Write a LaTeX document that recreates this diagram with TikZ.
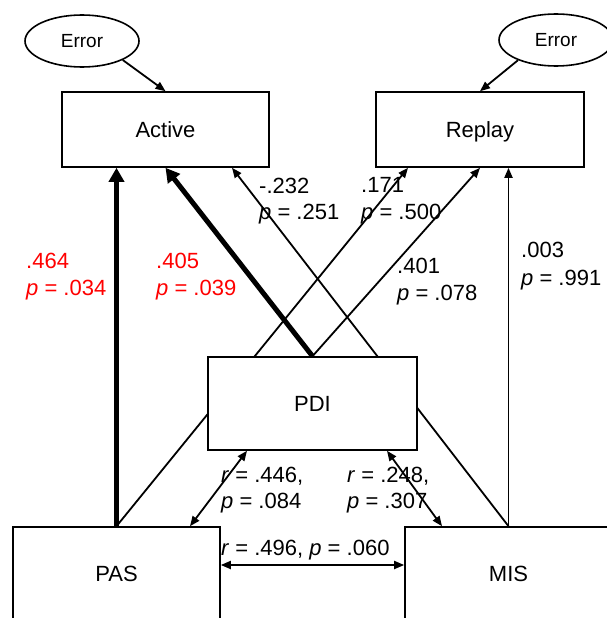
\documentclass[tikz,border=0pt]{standalone}
\usepackage{fontspec}
\setmainfont{Liberation Sans}
\usetikzlibrary{arrows.meta,backgrounds,shapes.geometric}
\begin{document}
\begin{tikzpicture}[x=1pt,y=-1pt,
  box/.style={draw,line width=1.6pt,fill=white,inner sep=0pt,text height=15.8pt,text depth=0pt,font=\fontsize{22}{26}\selectfont},
  err/.style={draw,ellipse,line width=1.6pt,minimum width=114pt,minimum height=52pt,inner sep=0pt,font=\fontsize{19}{22}\selectfont},
  thinarr/.style={line width=1.8pt,-{Triangle[length=10pt,width=8pt]}},
  thickarr/.style={line width=5pt,-{Triangle[length=14pt,width=15pt]}},
  dblarr/.style={line width=1.8pt,{Triangle[length=10pt,width=8pt]}-{Triangle[length=10pt,width=8pt]}},
  lbl/.style={anchor=base west,inner sep=0pt,font=\fontsize{22}{26}\selectfont},
  sig/.style={lbl,text=red}]
\useasboundingbox (0,0) rectangle (606,618);
\node[err] (e1) at (82,41) {Error};
\node[err] (e2) at (556,40) {Error};
\node[box,minimum width=207pt,minimum height=75pt] (act) at (165.5,129.5) {Active};
\node[box,minimum width=208pt,minimum height=75pt] (rep) at (480,129.5) {Replay};
\node[box,minimum width=209pt,minimum height=93pt] (pdi) at (312.5,403.5) {PDI};
\node[box,minimum width=207pt,minimum height=93pt] (pas) at (116.5,573.5) {PAS};
\node[box,minimum width=207pt,minimum height=93pt] (mis) at (508.5,573.5) {MIS};
\draw[thinarr] (e1.-25) -- (act.north);
\draw[thinarr] (e2.208) -- (rep.north);
\begin{scope}[on background layer]
\draw[thinarr] (mis.north) -- ([xshift=66.5pt]act.south);
\draw[thinarr] (pas.north) -- ([xshift=-72pt]rep.south);
\end{scope}
\draw[thickarr] (pas.north) -- (pas.north |- act.south);
\draw[thickarr] (pdi.north) -- (act.south);
\draw[thinarr] (pdi.north) -- (rep.south);
\draw[thinarr] (mis.north) -- (mis.north |- rep.south);
\draw[dblarr] ([xshift=-65.5pt]pdi.south) -- ([xshift=73.5pt]pas.north);
\draw[dblarr] ([xshift=74.5pt]pdi.south) -- ([xshift=-66.5pt]mis.north);
\draw[dblarr] ([yshift=8.5pt]pas.east) -- ([yshift=8.5pt]mis.west);
\node[sig] (la1) at (26,268) {.464};
\node[sig] (la2) at (26,295) {\textit{p} = .034};
\node[sig] (lb1) at (156,268) {.405};
\node[sig] (lb2) at (156,295) {\textit{p} = .039};
\node[lbl] (lc1) at (259,193) {-.232};
\node[lbl] (lc2) at (259,219) {\textit{p} = .251};
\node[lbl] (ld1) at (361,192) {.171};
\node[lbl] (ld2) at (361,219) {\textit{p} = .500};
\node[lbl] (le1) at (397,273) {.401};
\node[lbl] (le2) at (397,300) {\textit{p} = .078};
\node[lbl] (lf1) at (521,257) {.003};
\node[lbl] (lf2) at (521,285) {\textit{p} = .991};
\node[lbl] (lg1) at (221,482) {\textit{r} = .446,};
\node[lbl] (lg2) at (221,508) {\textit{p} = .084};
\node[lbl] (lh1) at (347,482) {\textit{r} = .248,};
\node[lbl] (lh2) at (347,508) {\textit{p} = .307};
\node[lbl] (li) at (221,555) {\textit{r} = .496, \textit{p} = .060};
\end{tikzpicture}
\end{document}
